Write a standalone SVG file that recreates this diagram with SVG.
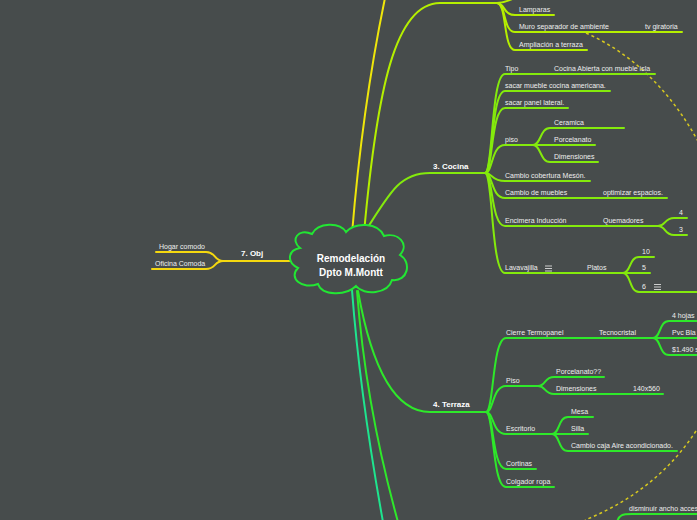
<svg xmlns="http://www.w3.org/2000/svg" width="697" height="520" viewBox="0 0 697 520">
<style>
.bg{fill:#474c4c}
.c{fill:none;stroke-width:2;stroke-linecap:round}
.y{stroke:#efe60a}
.yg{stroke:#b5ef00}
.lm{stroke:#84ea0c}
.gr{stroke:#2ee82a}
.mint{stroke:#1ee58e}
.ob{stroke:#f5d80f}
.dash{fill:none;stroke:#d6c820;stroke-width:1.5;stroke-dasharray:3 3}
.t{font-family:"Liberation Sans",Arial,sans-serif;font-size:7px;fill:#eeeeee}
.b{font-family:"Liberation Sans",Arial,sans-serif;font-size:8px;font-weight:bold;fill:#ffffff}
.ct{font-family:"Liberation Sans",Arial,sans-serif;font-size:10px;font-weight:bold;fill:#ffffff;text-anchor:middle}
.ic{stroke:#dddddd;stroke-width:0.9}
</style>
<rect class="bg" x="0" y="0" width="697" height="520"/>
<g id="connectors">
<path class="dash" d="M586,33 C760,110 810,430 585,520"/>
<path class="c y" d="M352,234 C358,160 368,80 385,-2"/>
<path class="c yg" d="M364,233 C377,90 395,3 440,3 L497,3"/>
<path class="c yg" d="M497,3 C510,3 512,-4 530,-6"/>
<path class="c yg" d="M497,3 C505,3 503,15 515,15 L554,15"/>
<path class="c yg" d="M497,3 C506,3 503,32 515,32 L682,32"/>
<path class="c yg" d="M497,3 C507,3 503,50 515,50 L587,50"/>
<path class="c lm" stroke-width="2.4" d="M365,232 C392,188 402,173 430,173 L485,173"/>
<path class="c lm" d="M485,173 C493,173 491,74 505,74 L655,74"/>
<path class="c lm" d="M485,173 C493,173 491,91 505,91 L610,91"/>
<path class="c lm" d="M485,173 C493,173 491,108 505,108 L568,108"/>
<path class="c lm" d="M485,173 C493,173 491,145 505,145 L533,145"/>
<path class="c lm" d="M485,173 C493,173 491,181 505,181 L590,181"/>
<path class="c lm" d="M485,173 C493,173 491,198 505,198 L667,198"/>
<path class="c lm" d="M485,173 C493,173 491,226 505,226 L658,226"/>
<path class="c lm" d="M485,173 C493,173 491,273 505,273 L623,273"/>
<path class="c lm" d="M533,145 C541,145 540,128 550,128 L624,128"/>
<path class="c lm" d="M533,145 L595,145"/>
<path class="c lm" d="M533,145 C541,145 540,162 550,162 L598,162"/>
<path class="c lm" d="M658,226 C666,226 664,218 674,218 L687,218"/>
<path class="c lm" d="M658,226 C666,226 664,235 674,235 L687,235"/>
<path class="c lm" d="M623,273 C631,273 629,257 639,257 L654,257"/>
<path class="c lm" d="M623,273 L650,273"/>
<path class="c lm" d="M623,273 C631,273 629,292 639,292 L700,292"/>
<path class="c gr" stroke-width="2.4" d="M358,291 C372,370 395,412 430,412 L486,412"/>
<path class="c gr" d="M486,412 C494,412 492,338 506,338 L653,338"/>
<path class="c gr" d="M486,412 C494,412 492,386 506,386 L538,386"/>
<path class="c gr" d="M486,412 C494,412 492,434 506,434 L552,434"/>
<path class="c gr" d="M486,412 C494,412 492,469 506,469 L536,469"/>
<path class="c gr" d="M486,412 C494,412 492,487 506,487 L554,487"/>
<path class="c gr" d="M653,338 C661,338 659,321 669,321 L700,321"/>
<path class="c gr" d="M653,338 L700,338"/>
<path class="c gr" d="M653,338 C661,338 659,355 669,355 L700,355"/>
<path class="c gr" d="M538,386 C546,386 544,377 554,377 L604,377"/>
<path class="c gr" d="M538,386 C546,386 544,394 554,394 L663,394"/>
<path class="c gr" d="M552,434 C560,434 558,417 568,417 L593,417"/>
<path class="c gr" d="M552,434 L588,434"/>
<path class="c gr" d="M552,434 C560,434 558,451 568,451 L677,451"/>
<path class="c gr" d="M617,522 C619,515 622,514 632,514 L700,514"/>
<path class="c mint" d="M352,290 C358,370 370,450 383,522"/>
<path class="c gr" d="M357,291 C363,370 378,450 398,522"/>
<path class="c ob" d="M290,261 L223,261"/>
<path class="c ob" d="M223,261 C214,261 216,252 206,252 L156,252"/>
<path class="c ob" d="M223,261 C214,261 216,269 206,269 L152,269"/>
</g>
<g id="root">
<path d="M300,248 C290,240 298,228 312,234 C318,222 340,222 346,232 C355,222 378,222 384,236 C398,232 410,244 400,255 C412,262 408,282 392,280 C388,294 364,296 356,286 C346,296 322,296 318,284 C302,290 288,278 298,268 C286,262 288,250 300,248 Z" fill="#474c4c" stroke="#22e633" stroke-width="2"/>
<text class="ct" x="351" y="262">Remodelación</text>
<text class="ct" x="351" y="276">Dpto M.Montt</text>
</g>
<g id="n-top">
<text class="t" x="519" y="12">Lamparas</text>
<text class="t" x="519" y="29">Muro separador de ambiente</text>
<text class="t" x="645" y="29">tv giratoria</text>
<text class="t" x="519" y="47">Ampliación a terraza</text>
</g>
<g id="n-cocina">
<text class="b" x="433" y="169">3. Cocina</text>
<text class="t" x="505" y="71">Tipo</text>
<text class="t" x="554" y="71">Cocina Abierta con mueble isla</text>
<text class="t" x="505" y="88">sacar mueble cocina americana.</text>
<text class="t" x="505" y="105">sacar panel lateral.</text>
<text class="t" x="505" y="142">piso</text>
<text class="t" x="554" y="125">Ceramica</text>
<text class="t" x="554" y="142">Porcelanato</text>
<text class="t" x="554" y="159">Dimensiones</text>
<text class="t" x="505" y="178">Cambio cobertura Mesón.</text>
<text class="t" x="505" y="195">Cambio de muebles</text>
<text class="t" x="603" y="195">optimizar espacios.</text>
<text class="t" x="505" y="223">Encimera Inducción</text>
<text class="t" x="603" y="223">Quemadores</text>
<text class="t" x="679" y="215">4</text>
<text class="t" x="679" y="232">3</text>
<text class="t" x="505" y="270">Lavavajilla</text>
<g class="ic"><line x1="545" y1="266" x2="552" y2="266"/><line x1="545" y1="268.5" x2="552" y2="268.5"/><line x1="545" y1="271" x2="552" y2="271"/></g>
<text class="t" x="587" y="270">Platos</text>
<text class="t" x="642" y="254">10</text>
<text class="t" x="642" y="270">5</text>
<text class="t" x="642" y="289">6</text>
<g class="ic"><line x1="654" y1="284.5" x2="661" y2="284.5"/><line x1="654" y1="287" x2="661" y2="287"/><line x1="654" y1="289.5" x2="661" y2="289.5"/></g>
</g>
<g id="n-terraza">
<text class="b" x="433" y="407">4. Terraza</text>
<text class="t" x="506" y="335">Cierre Termopanel</text>
<text class="t" x="599" y="335">Tecnocristal</text>
<text class="t" x="672" y="318">4 hojas</text>
<text class="t" x="672" y="335">Pvc Bla</text>
<text class="t" x="672" y="352">$1.490 s</text>
<text class="t" x="506" y="383">Piso</text>
<text class="t" x="556" y="374">Porcelanato??</text>
<text class="t" x="556" y="391">Dimensiones</text>
<text class="t" x="633" y="391">140x560</text>
<text class="t" x="506" y="431">Escritorio</text>
<text class="t" x="571" y="414">Mesa</text>
<text class="t" x="571" y="431">Silla</text>
<text class="t" x="571" y="448">Cambio caja Aire acondicionado.</text>
<text class="t" x="506" y="466">Cortinas</text>
<text class="t" x="506" y="484">Colgador ropa</text>
</g>
<g id="n-bottom">
<text class="t" x="629" y="511">disminuir ancho acces</text>
</g>
<g id="n-obj">
<text class="b" x="241" y="256">7. Obj</text>
<text class="t" x="159" y="249">Hogar comodo</text>
<text class="t" x="155" y="266">Oficina Comoda</text>
</g>
</svg>
